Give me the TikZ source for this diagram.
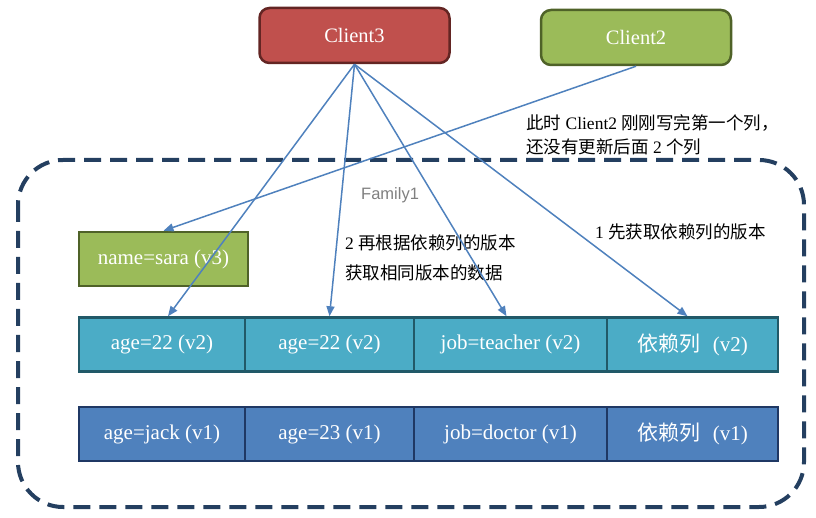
\documentclass[tikz,border=0pt]{standalone}
\usepackage{fontspec}
\setmainfont{Liberation Serif}
\newfontfamily\cjk{Noto Sans CJK SC}
\newfontfamily\famsans{Liberation Sans}
\usetikzlibrary{arrows.meta}
\definecolor{redfill}{HTML}{C0504D}
\definecolor{redline}{HTML}{632523}
\definecolor{greenfill}{HTML}{9BBB59}
\definecolor{greenline}{HTML}{4F6228}
\definecolor{aquafill}{HTML}{4BACC6}
\definecolor{aqualine}{HTML}{215968}
\definecolor{bluefill}{HTML}{4F81BD}
\definecolor{blueline}{HTML}{1F3864}
\definecolor{arrowblue}{HTML}{4F81BD}
\definecolor{dashnavy}{HTML}{243F60}
\newcommand{\zh}[1]{{\cjk #1}}
\begin{document}
\begin{tikzpicture}[x=1pt,y=-1pt,
  client/.style={draw, rounded corners=10pt, line width=2.5pt, inner sep=0pt,
    minimum width=190pt, minimum height=55pt, text=white, font=\fontsize{20.5}{24}\selectfont},
  cell/.style={draw, line width=2.5pt, inner sep=0pt, minimum height=54pt,
    text=white, font=\fontsize{21}{24}\selectfont},
  vtwo/.style={cell, fill=aquafill, draw=aqualine},
  vone/.style={cell, fill=bluefill, draw=blueline},
  lbl/.style={anchor=base west, inner sep=0pt, font=\fontsize{17.5}{20}\selectfont},
  conn/.style={draw=arrowblue, line width=1.5pt, -{Triangle[length=10pt,width=8pt]}}
]
\useasboundingbox (0,0) rectangle (816,518);
% family box
\draw[dashnavy, line width=4pt, dash pattern=on 17pt off 9pt, rounded corners=45pt]
  (18,160) rectangle (804,507);
\node[anchor=base west, inner sep=0pt, text=gray, font=\famsans\fontsize{16.5}{20}\selectfont] (fam) at (361,200) {Family1};
% clients
\node[client, fill=redfill, draw=redline] (c3) at (354.5,35.5) {Client3};
\node[client, fill=greenfill, draw=greenline] (c2) at (636,37.5) {Client2};
% name=sara
\node[cell, fill=greenfill, draw=greenline, minimum width=169pt] (sara) at (163.5,259) {name=sara (v3)};
% row v2
\node[vtwo, minimum width=166pt] (a1) at (162,344.5) {age=22 (v2)};
\node[vtwo, minimum width=169pt] (a2) at (329.5,344.5) {age=22 (v2)};
\node[vtwo, minimum width=193pt] (a3) at (510.5,344.5) {job=teacher (v2)};
\node[vtwo, minimum width=171pt] (a4) at (692.5,344.5) {\zh{依赖列}\hspace{0.6em}(v2)};
% row v1
\node[vone, minimum width=166pt] (b1) at (162,434) {age=jack (v1)};
\node[vone, minimum width=169pt] (b2) at (329.5,434) {age=23 (v1)};
\node[vone, minimum width=193pt] (b3) at (510.5,434) {job=doctor (v1)};
\node[vone, minimum width=171pt] (b4) at (692.5,434) {\zh{依赖列}\hspace{0.6em}(v1)};
% labels
\node[lbl] (la1) at (526,129.5) {\zh{此时} Client2 \zh{刚刚写完第一个列，}};
\node[lbl] (la2) at (526,153.5) {\zh{还没有更新后面} 2 \zh{个列}};
\node[lbl] (lb1) at (345,249.5) {2 \zh{再根据依赖列的版本}};
\node[lbl] (lb2) at (345,280) {\zh{获取相同版本的数据}};
\node[lbl] (lc1) at (595,238.5) {1 \zh{先获取依赖列的版本}};
% connectors
\draw[conn] (c2.south) -- (sara.north);
\draw[conn] (c3.south) -- ([xshift=6pt]a1.north);
\draw[conn] (c3.south) -- (a2.north);
\draw[conn] (c3.south) -- ([xshift=-4pt]a3.north);
\draw[conn] (c3.south) -- ([xshift=-5pt]a4.north);
\end{tikzpicture}
\end{document}
